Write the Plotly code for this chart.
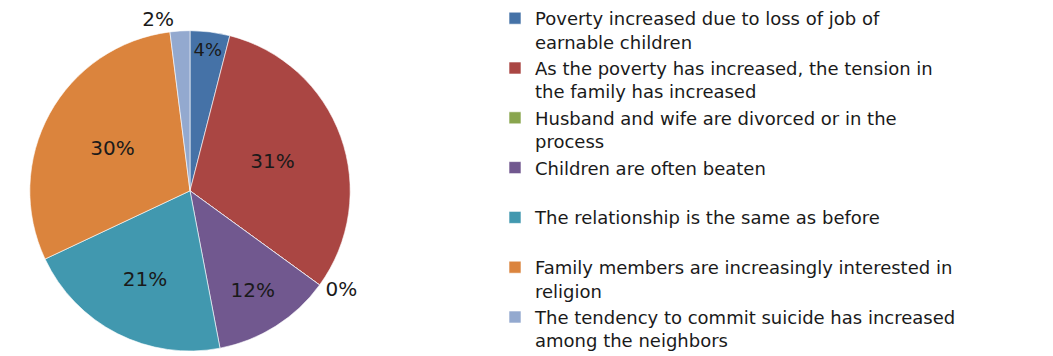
import plotly.graph_objects as go

# Survey responses: effect on family relationships
labels = [
    "Poverty increased due to loss of job of<br>earnable children",
    "As the poverty has increased, the tension in<br>the family has increased",
    "Husband and wife are divorced or in the<br>process",
    "Children are often beaten<br>&nbsp;",
    "The relationship is the same as before<br>&nbsp;",
    "Family members are increasingly interested in<br>religion",
    "The tendency to commit suicide has increased<br>among the neighbors",
]
values = [4, 31, 0, 12, 21, 30, 2]
colors = ["#4572A7", "#AA4643", "#89A54E", "#71588F", "#4198AF", "#DB843D", "#93A9CF"]
text_pos = ["inside", "inside", "outside", "inside", "inside", "inside", "outside"]

W, H = 1053, 356
cx, cy, r = 190, 193, 162  # pie centre / radius in pixels

fig = go.Figure(go.Pie(
    labels=labels,
    values=values,
    sort=False,
    direction="clockwise",
    rotation=0,
    marker=dict(colors=colors, line=dict(color="white", width=0.6)),
    text=[f"{v}%" for v in values],
    textinfo="text",
    textposition=text_pos,
    insidetextorientation="horizontal",
    textfont=dict(family="DejaVu Sans", size=20, color="#1a1a1a"),
    outsidetextfont=dict(family="DejaVu Sans", size=20, color="#1a1a1a"),
    domain=dict(x=[(cx - r) / W, (cx + r) / W],
                y=[(H - cy - r) / H, (H - cy + r) / H]),
    hoverinfo="skip",
))

fig.update_layout(
    width=W, height=H,
    margin=dict(l=0, r=0, t=0, b=0),
    paper_bgcolor="white",
    showlegend=True,
    legend=dict(
        x=495 / W, y=1, xanchor="left", yanchor="top",
        valign="top",
        font=dict(family="DejaVu Sans", size=18, color="#1a1a1a"),
        itemclick=False,
        tracegroupgap=0,
        maxheight=600,
    ),
)

fig.write_html("out.html")
